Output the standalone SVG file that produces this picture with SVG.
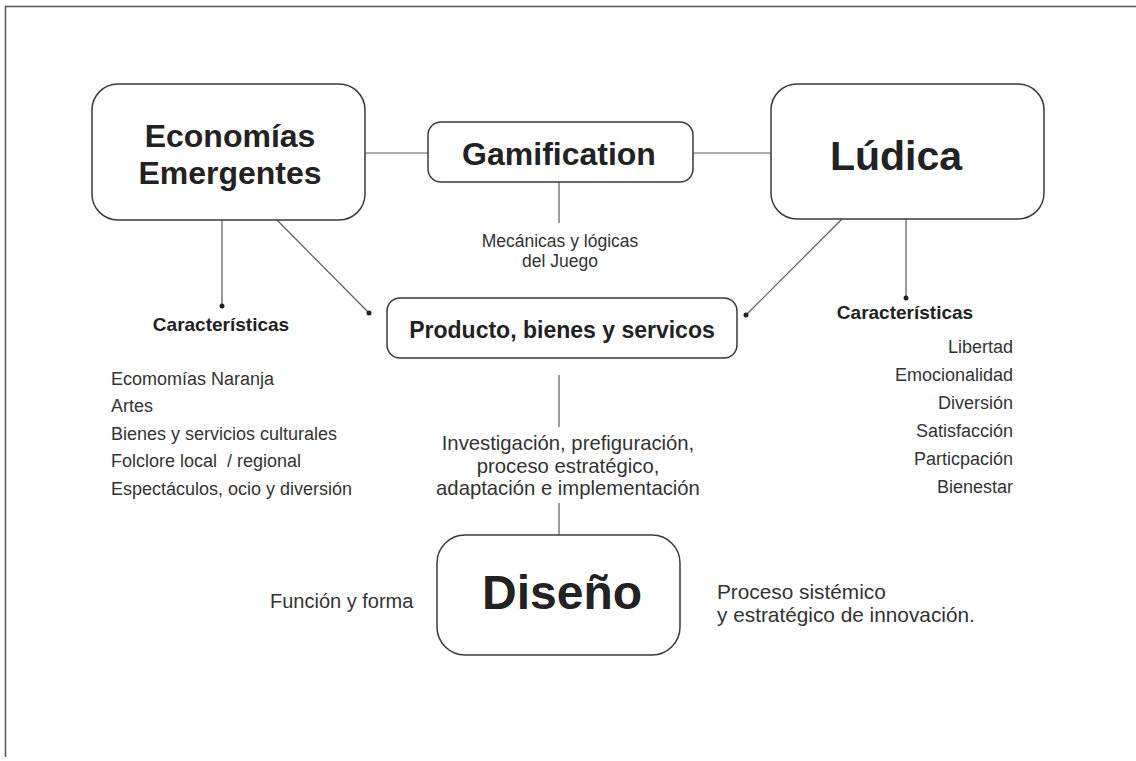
<svg xmlns="http://www.w3.org/2000/svg" width="1136" height="761" viewBox="0 0 1136 761">
<style>
.box{fill:#fff;stroke:#3a3a3a;stroke-width:1.5}
.ln{stroke:#5a5a5a;stroke-width:1.2;fill:none}
.dot{fill:#222}
.b{font-family:"Liberation Sans",Arial,sans-serif;font-weight:bold;fill:#222}
.r{font-family:"Liberation Sans",Arial,sans-serif;fill:#333}
.m{text-anchor:middle}
.e{text-anchor:end}
</style>
<rect width="1136" height="761" fill="#fff"/>
<path d="M5.5 757V6.5H1136" fill="none" stroke="#555" stroke-width="1.5"/>
<g id="connectors">
<line class="ln" x1="365" y1="153" x2="428" y2="153"/>
<line class="ln" x1="693" y1="153" x2="771" y2="153"/>
<line class="ln" x1="222" y1="220" x2="222" y2="306"/>
<circle class="dot" cx="222" cy="306" r="2.5"/>
<line class="ln" x1="277" y1="220" x2="369" y2="313"/>
<circle class="dot" cx="369" cy="313" r="2.5"/>
<line class="ln" x1="906" y1="219" x2="906" y2="298"/>
<circle class="dot" cx="906" cy="298" r="2.5"/>
<line class="ln" x1="842" y1="219" x2="746" y2="315"/>
<circle class="dot" cx="746" cy="315" r="2.5"/>
<line class="ln" x1="559" y1="182" x2="559" y2="223"/>
<line class="ln" x1="559" y1="375" x2="559" y2="427"/>
<line class="ln" x1="559" y1="503" x2="559" y2="535"/>
</g>
<g id="economias">
<rect class="box" x="92" y="84" width="273" height="136" rx="26"/>
<text class="b m" x="230" y="147" font-size="32">Economías</text>
<text class="b m" x="230" y="184" font-size="32">Emergentes</text>
</g>
<g id="gamification">
<rect class="box" x="428" y="122" width="265" height="60" rx="13"/>
<text class="b m" x="559" y="165" font-size="32">Gamification</text>
</g>
<g id="ludica">
<rect class="box" x="771" y="84" width="273" height="135" rx="26"/>
<text class="b m" x="896" y="170" font-size="41">Lúdica</text>
</g>
<g id="mecanicas">
<text class="r m" x="560" y="247" font-size="17.5">Mecánicas y lógicas</text>
<text class="r m" x="560" y="267" font-size="17.5">del Juego</text>
</g>
<g id="producto">
<rect class="box" x="387" y="298" width="350" height="60" rx="13"/>
<text class="b m" x="562" y="338" font-size="23">Producto, bienes y servicos</text>
</g>
<g id="caract-left">
<text class="b m" x="221" y="331" font-size="19">Características</text>
<text class="r" x="111" y="385" font-size="18">Ecomomías Naranja</text>
<text class="r" x="111" y="412" font-size="18">Artes</text>
<text class="r" x="111" y="440" font-size="18">Bienes y servicios culturales</text>
<text class="r" x="111" y="467" font-size="18">Folclore local&#160; / regional</text>
<text class="r" x="111" y="495" font-size="18">Espectáculos, ocio y diversión</text>
</g>
<g id="caract-right">
<text class="b m" x="905" y="319" font-size="19">Características</text>
<text class="r e" x="1013" y="353" font-size="18">Libertad</text>
<text class="r e" x="1013" y="381" font-size="18">Emocionalidad</text>
<text class="r e" x="1013" y="409" font-size="18">Diversión</text>
<text class="r e" x="1013" y="437" font-size="18">Satisfacción</text>
<text class="r e" x="1013" y="465" font-size="18">Particpación</text>
<text class="r e" x="1013" y="493" font-size="18">Bienestar</text>
</g>
<g id="investigacion">
<text class="r m" x="568" y="450" font-size="20.3">Investigación, prefiguración,</text>
<text class="r m" x="568" y="473" font-size="20.3">proceso estratégico,</text>
<text class="r m" x="568" y="495" font-size="20.3">adaptación e implementación</text>
</g>
<g id="diseno">
<rect class="box" x="437" y="535" width="243" height="120" rx="28"/>
<text class="b m" x="562" y="609" font-size="48">Diseño</text>
</g>
<g id="funcion">
<text class="r" x="270" y="608" font-size="20">Función y forma</text>
</g>
<g id="proceso">
<text class="r" x="717" y="599" font-size="20.8">Proceso sistémico</text>
<text class="r" x="717" y="622" font-size="20.8">y estratégico de innovación.</text>
</g>
</svg>
